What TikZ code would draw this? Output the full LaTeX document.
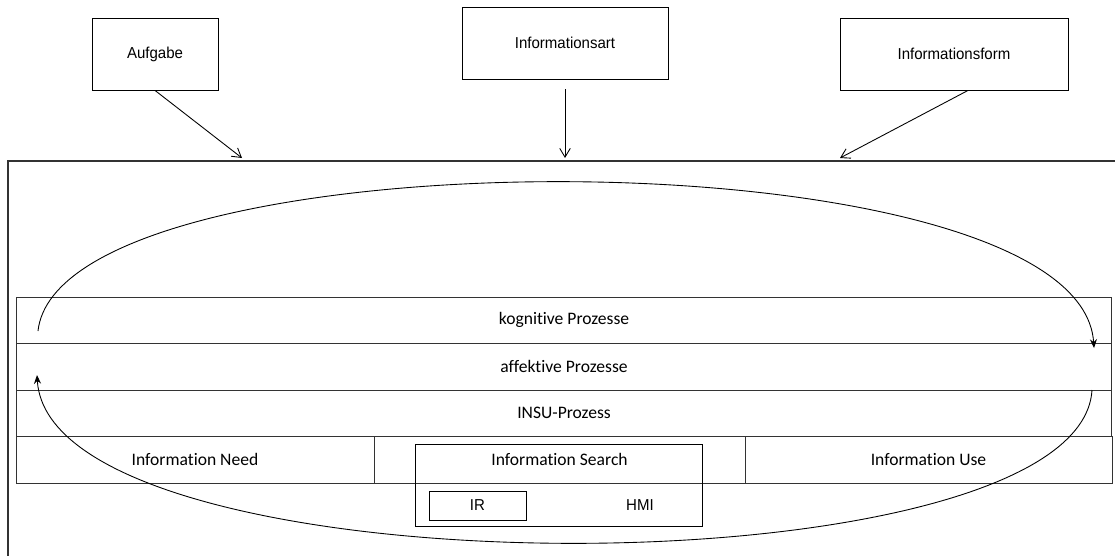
\documentclass[tikz,border=0pt]{standalone}
\usepackage{fontspec}
\setmainfont[Ligatures=NoCommon]{Carlito}
\newfontfamily\boxfont[FakeStretch=0.95]{Liberation Sans}
\usepackage{tikz}
\usetikzlibrary{arrows.meta,positioning}

\tikzset{
  topbox/.style={draw, rectangle, inner sep=0pt, minimum height=1.44cm,
    line width=0.5pt, font=\boxfont\fontsize{9}{11}\selectfont},
  layer/.style={draw=black!80, rectangle, inner sep=0pt, minimum width=21.92cm,
    minimum height=0.93cm, line width=0.5pt, font=\fontsize{10}{12}\selectfont},
  cell/.style={layer, minimum width=#1},
  feed/.style={-{Straight Barb[length=5pt,width=6pt]}, line width=0.5pt},
  cycle/.style={-{Stealth[length=5pt,width=4pt]}, line width=0.5pt},
}

\begin{document}
\begin{tikzpicture}[x=0.02cm,y=-0.02cm]
        \useasboundingbox (0,0) rectangle (1115,555);
        % --- TOP: influencing factors ---
        \node[topbox, minimum width=2.52cm] (aufg) at (155,54) {Aufgabe};
        \node[topbox, minimum width=4.12cm] (art) at (565,43) {Informationsart};
        \node[topbox, minimum width=4.56cm] (form) at (954,54) {Informationsform};
        % Outer frame (runs off the page)
        \draw[line width=0.7pt,black!80] (1125,161) -| (8,565);
        \coordinate (in1) at (242,158);
        \coordinate (in2) at (565,158);
        \coordinate (in3) at (840,158);
        \draw[feed] (aufg.south) -- (in1);
        \draw[feed] ([yshift=-0.2cm]art.south) -- (in2);
        \draw[feed] ([xshift=0.28cm]form.south) -- (in3);
        % --- Layers ---
        \node[layer] (kog) at (564,320.25) {kognitive Prozesse};
        \node[layer] (aff) at (564,366.75) {affektive Prozesse};
        \node[layer] (insu) at (564,413.25) {INSU-Prozess};
        % Bottom row
        \node[cell=7.16cm] (need) at (195,459.75) {Information Need};
        \node[cell=7.42cm] (search) at (559.5,459.75) {Information Search};
        \node[cell=7.34cm] (use) at (928.5,459.75) {Information Use};
        \node[draw, line width=0.5pt, minimum width=5.74cm, minimum height=1.64cm] (srch) at (558.5,485) {};
        \node[topbox, minimum width=1.94cm, minimum height=0.58cm] (ir) at (477.5,505.5) {IR};
        \node[font=\boxfont\fontsize{9}{11}\selectfont] (hmi) at (640,505) {HMI};
        % --- Cycle ---
        \coordinate (c1) at (38,331);
        \coordinate (c2) at (1094,348);
        \coordinate (c3) at (1092,390);
        \coordinate (c4) at (37,375);
        \draw[cycle] (c1) .. controls (60,130) and (1080,130) .. (c2);
        \draw[cycle] (c3) .. controls (1080,596) and (50,596) .. (c4);
\end{tikzpicture}
\end{document}
